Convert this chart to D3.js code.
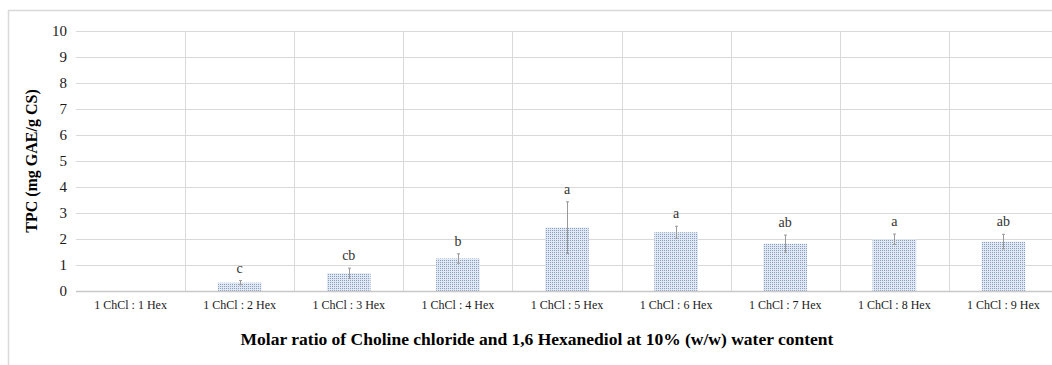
<!DOCTYPE html>
<html>
<head>
<meta charset="utf-8">
<script src="https://cdn.jsdelivr.net/npm/d3@7"></script>
<style>
  body { margin: 0; background: #fff; }
  svg { display: block; }
</style>
</head>
<body>
<div id="chart"></div>
<script>
// data
const categories = ['1 ChCl : 1 Hex', '1 ChCl : 2 Hex', '1 ChCl : 3 Hex', '1 ChCl : 4 Hex',
  '1 ChCl : 5 Hex', '1 ChCl : 6 Hex', '1 ChCl : 7 Hex', '1 ChCl : 8 Hex', '1 ChCl : 9 Hex']
const tpc = [0, 0.32, 0.68, 1.25, 2.44, 2.26, 1.82, 1.99, 1.9]
const errs = [0, 0.08, 0.2, 0.18, 0.99, 0.23, 0.33, 0.2, 0.28]
const letters = ['', 'c', 'cb', 'b', 'a', 'a', 'ab', 'a', 'ab']
const yTicks = [0, 1, 2, 3, 4, 5, 6, 7, 8, 9, 10]

const W = 1052, H = 365
const margin = {top: 31, left: 76, right: -6, bottom: 74}
const serif = "'Liberation Serif', 'Times New Roman', serif"

const svg = d3.select('#chart').append('svg')
  .attr('width', W).attr('height', H)

// outer frame of the chart area
svg.append('rect')
  .attr('x', 8.5).attr('y', 10.5).attr('width', W + 20).attr('height', H)
  .attr('fill', 'none').attr('stroke', '#d9d9d9').attr('stroke-width', 1.5)

// dotted fill like the excel pattern
const pat = svg.append('defs').append('pattern')
  .attr('id', 'dots').attr('width', 2).attr('height', 2)
  .attr('patternUnits', 'userSpaceOnUse')
pat.append('rect').attr('width', 2).attr('height', 2).attr('fill', '#e0e8f3')
pat.append('rect').attr('x', 0).attr('y', 0).attr('width', 1).attr('height', 1).attr('fill', '#8a9fc0')

const x = d3.scaleBand()
  .domain(categories)
  .range([margin.left, W - margin.right])
  .padding(0)

const y = d3.scaleLinear()
  .domain([0, 10])
  .range([H - margin.bottom, margin.top])

// horizontal gridlines
svg.append('g').selectAll('line').data(yTicks.slice(1)).enter().append('line')
  .attr('x1', margin.left).attr('x2', W - margin.right)
  .attr('y1', d => Math.round(y(d)) + 0.5).attr('y2', d => Math.round(y(d)) + 0.5)
  .attr('stroke', '#d9d9d9').attr('stroke-width', 1)

// vertical category separators
svg.append('g').selectAll('line').data(categories.slice(1)).enter().append('line')
  .attr('x1', d => Math.round(x(d)) + 0.5).attr('x2', d => Math.round(x(d)) + 0.5)
  .attr('y1', y(10)).attr('y2', y(0))
  .attr('stroke', '#d9d9d9').attr('stroke-width', 1)

// bars
const bw = x.bandwidth() * 0.4
svg.append('g').selectAll('rect').data(categories).enter().append('rect')
  .attr('x', d => x(d) + (x.bandwidth() - bw) / 2)
  .attr('y', (d, i) => y(tpc[i]))
  .attr('width', bw)
  .attr('height', (d, i) => y(0) - y(tpc[i]))
  .attr('fill', 'url(#dots)')

// bottom axis line
svg.append('line')
  .attr('x1', margin.left).attr('x2', W - margin.right)
  .attr('y1', Math.round(y(0)) + 0.5).attr('y2', Math.round(y(0)) + 0.5)
  .attr('stroke', '#c8c8c8').attr('stroke-width', 1.5)

// error bars
const eb = svg.append('g').attr('stroke', '#999').attr('stroke-width', 1)
categories.forEach((c, i) => {
  if (!errs[i]) return
  const cx = Math.round(x(c) + x.bandwidth() / 2) + 0.5
  eb.append('line').attr('x1', cx).attr('x2', cx)
    .attr('y1', y(tpc[i] + errs[i])).attr('y2', y(tpc[i] - errs[i]))
  ;[tpc[i] + errs[i], tpc[i] - errs[i]].forEach(v => {
    eb.append('line').attr('x1', cx - 1.5).attr('x2', cx + 1.5)
      .attr('y1', y(v)).attr('y2', y(v))
  })
})

// significance letters
svg.append('g').selectAll('text').data(categories).enter().append('text')
  .attr('x', d => x(d) + x.bandwidth() / 2)
  .attr('y', (d, i) => y(tpc[i] + errs[i]) - 8)
  .attr('text-anchor', 'middle')
  .style('font-family', serif)
  .style('font-size', '14px')
  .attr('fill', '#333')
  .text((d, i) => letters[i])

// y axis labels
const yAxis = svg.append('g')
  .attr('transform', `translate(${margin.left - 9},0)`)
  .call(d3.axisLeft(y).tickValues(yTicks).tickSize(0).tickPadding(0))
yAxis.select('.domain').remove()
yAxis.selectAll('text')
  .style('font-family', serif)
  .style('font-size', '15px')
  .attr('fill', '#1a1a1a')

// x axis labels
const xAxis = svg.append('g')
  .attr('transform', `translate(0,${y(0)})`)
  .call(d3.axisBottom(x).tickSize(0).tickPadding(9))
xAxis.select('.domain').remove()
xAxis.selectAll('text')
  .style('font-family', serif)
  .style('font-size', '12px')
  .attr('fill', '#1a1a1a')

// axis titles
svg.append('text')
  .attr('transform', `translate(37,${(y(0) + y(10)) / 2}) rotate(-90)`)
  .attr('text-anchor', 'middle')
  .style('font-family', serif)
  .style('font-weight', 'bold')
  .style('font-size', '16px')
  .attr('fill', '#000')
  .text('TPC (mg GAE/g CS)')

svg.append('text')
  .attr('x', 537).attr('y', 345)
  .attr('text-anchor', 'middle')
  .style('font-family', serif)
  .style('font-weight', 'bold')
  .style('font-size', '17.5px')
  .attr('fill', '#000')
  .text('Molar ratio of Choline chloride and 1,6 Hexanediol at 10% (w/w) water content')
</script>
</body>
</html>
